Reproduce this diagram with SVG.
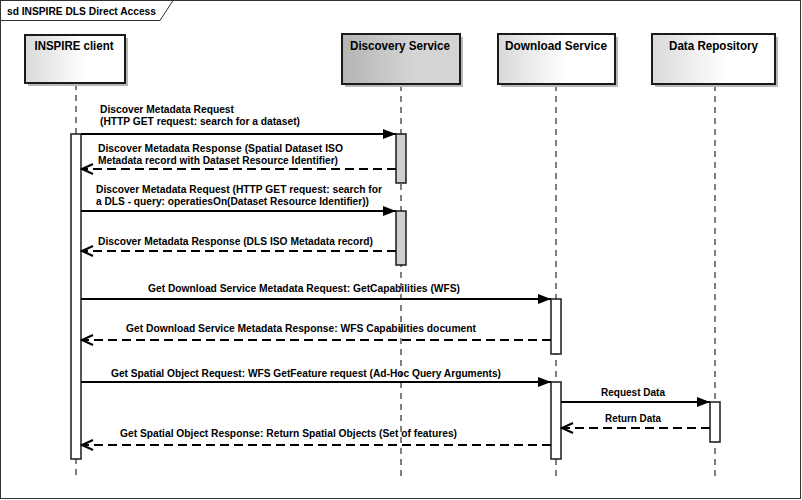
<svg xmlns="http://www.w3.org/2000/svg" width="802" height="500" viewBox="0 0 802 500">
<style>
.frame{fill:#fff;stroke:#333;stroke-width:1}
.tab{fill:none;stroke:#333;stroke-width:1}
.title{font-family:"Liberation Sans",Arial,sans-serif;font-weight:bold;font-size:11px;fill:#000}
.head{stroke:#1a1a1a;stroke-width:2}
.shadow{fill:#b8b8b8}
.hlabel{font-family:"Liberation Sans",Arial,sans-serif;font-weight:bold;font-size:12px;fill:#000;text-anchor:middle}
.life{stroke:#000;stroke-width:1;stroke-dasharray:6,5;fill:none}
.bar{fill:#fff;stroke:#1a1a1a;stroke-width:1.5}
.barg{fill:#cfcfcf;stroke:#1a1a1a;stroke-width:1.5}
.msg{stroke:#000;stroke-width:2;fill:none}
.sync{marker-end:url(#solid)}
.ret{stroke-dasharray:9,5;marker-end:url(#open)}
.lbl{font-family:"Liberation Sans",Arial,sans-serif;font-weight:bold;font-size:10px;fill:#000}
</style>
<defs>
<linearGradient id="gw" x1="0" y1="0" x2="1" y2="0">
<stop offset="0" stop-color="#d9d9d9"/>
<stop offset="0.6" stop-color="#ffffff"/>
<stop offset="1" stop-color="#ffffff"/>
</linearGradient>
<linearGradient id="gg" x1="0" y1="0" x2="1" y2="0">
<stop offset="0" stop-color="#b4b4b4"/>
<stop offset="0.6" stop-color="#d4d4d4"/>
<stop offset="1" stop-color="#d4d4d4"/>
</linearGradient>
<marker id="solid" markerUnits="userSpaceOnUse" markerWidth="14" markerHeight="12" refX="13" refY="6" orient="auto">
<path d="M0,1 L13,6 L0,11 Z" fill="#000"/>
</marker>
<marker id="open" markerUnits="userSpaceOnUse" markerWidth="14" markerHeight="12" refX="12" refY="6" orient="auto">
<path d="M1,1 L12,6 L1,11" fill="none" stroke="#000" stroke-width="2"/>
</marker>
</defs>

<g id="frame">
<rect class="frame" x="0.5" y="0.5" width="800" height="498"/>
<polyline class="tab" points="0.5,20.5 160,20.5 173,0.5"/>
<text class="title" x="7" y="15" textLength="149" lengthAdjust="spacingAndGlyphs">sd INSPIRE DLS Direct Access</text>
</g>

<g id="lifelines">
<line class="life" x1="76" y1="84" x2="76" y2="476"/>
<line class="life" x1="401" y1="85" x2="401" y2="476"/>
<line class="life" x1="556" y1="85" x2="556" y2="476"/>
<line class="life" x1="715" y1="85" x2="715" y2="476"/>
</g>

<g id="client">
<rect class="shadow" x="28" y="38" width="100" height="48"/>
<rect class="head" x="25" y="35" width="100" height="48" fill="url(#gw)"/>
<text class="hlabel" x="74" y="50" textLength="79" lengthAdjust="spacingAndGlyphs">INSPIRE client</text>
</g>

<g id="discovery">
<rect class="shadow" x="345" y="37" width="118" height="50"/>
<rect class="head" x="342" y="34" width="118" height="50" fill="url(#gg)"/>
<text class="hlabel" x="400" y="50" textLength="100" lengthAdjust="spacingAndGlyphs">Discovery Service</text>
</g>

<g id="download">
<rect class="shadow" x="501" y="37" width="117" height="50"/>
<rect class="head" x="498" y="34" width="117" height="50" fill="url(#gw)"/>
<text class="hlabel" x="556" y="50" textLength="102" lengthAdjust="spacingAndGlyphs">Download Service</text>
</g>

<g id="repository">
<rect class="shadow" x="655" y="37" width="123" height="50"/>
<rect class="head" x="652" y="34" width="123" height="50" fill="url(#gw)"/>
<text class="hlabel" x="713.5" y="50" textLength="89" lengthAdjust="spacingAndGlyphs">Data Repository</text>
</g>

<g id="activations">
<rect class="bar" x="71" y="134" width="10" height="325"/>
<rect class="barg" x="396" y="134" width="10" height="49"/>
<rect class="barg" x="396" y="211" width="10" height="54"/>
<rect class="bar" x="551" y="299" width="10" height="55"/>
<rect class="bar" x="551" y="382" width="10" height="77"/>
<rect class="bar" x="710" y="402" width="10" height="40"/>
</g>

<g id="connectors">
<line class="msg sync" x1="81" y1="134" x2="396" y2="134"/>
<line class="msg ret" x1="396" y1="169" x2="82" y2="169"/>
<line class="msg sync" x1="81" y1="211" x2="396" y2="211"/>
<line class="msg ret" x1="396" y1="251" x2="82" y2="251"/>
<line class="msg sync" x1="81" y1="299" x2="551" y2="299"/>
<line class="msg ret" x1="551" y1="340" x2="82" y2="340"/>
<line class="msg sync" x1="81" y1="382" x2="551" y2="382"/>
<line class="msg sync" x1="561" y1="402" x2="710" y2="402"/>
<line class="msg ret" x1="710" y1="428" x2="562" y2="428"/>
<line class="msg ret" x1="551" y1="445" x2="82" y2="445"/>
</g>

<g id="labels">
<text class="lbl" x="100" y="113" textLength="134" lengthAdjust="spacingAndGlyphs">Discover Metadata Request</text>
<text class="lbl" x="100" y="125" textLength="200" lengthAdjust="spacingAndGlyphs">(HTTP GET request: search for a dataset)</text>
<text class="lbl" x="98" y="152" textLength="245" lengthAdjust="spacingAndGlyphs">Discover Metadata Response (Spatial Dataset ISO</text>
<text class="lbl" x="98" y="164" textLength="240" lengthAdjust="spacingAndGlyphs">Metadata record with Dataset Resource Identifier)</text>
<text class="lbl" x="96" y="193" textLength="286" lengthAdjust="spacingAndGlyphs">Discover Metadata Request (HTTP GET request: search for</text>
<text class="lbl" x="96" y="205" textLength="273" lengthAdjust="spacingAndGlyphs">a DLS - query: operatiesOn(Dataset Resource Identifier))</text>
<text class="lbl" x="98" y="245" textLength="275" lengthAdjust="spacingAndGlyphs">Discover Metadata Response (DLS ISO Metadata record)</text>
<text class="lbl" x="148" y="292" textLength="312" lengthAdjust="spacingAndGlyphs">Get Download Service Metadata Request: GetCapabilities (WFS)</text>
<text class="lbl" x="126" y="332" textLength="350" lengthAdjust="spacingAndGlyphs">Get Download Service Metadata Response: WFS Capabilities document</text>
<text class="lbl" x="111" y="377" textLength="390" lengthAdjust="spacingAndGlyphs">Get Spatial Object Request: WFS GetFeature request (Ad-Hoc Query Arguments)</text>
<text class="lbl" x="601" y="396" textLength="64" lengthAdjust="spacingAndGlyphs">Request Data</text>
<text class="lbl" x="605" y="422" textLength="56" lengthAdjust="spacingAndGlyphs">Return Data</text>
<text class="lbl" x="120" y="437" textLength="337" lengthAdjust="spacingAndGlyphs">Get Spatial Object Response: Return Spatial Objects (Set of features)</text>
</g>
</svg>
